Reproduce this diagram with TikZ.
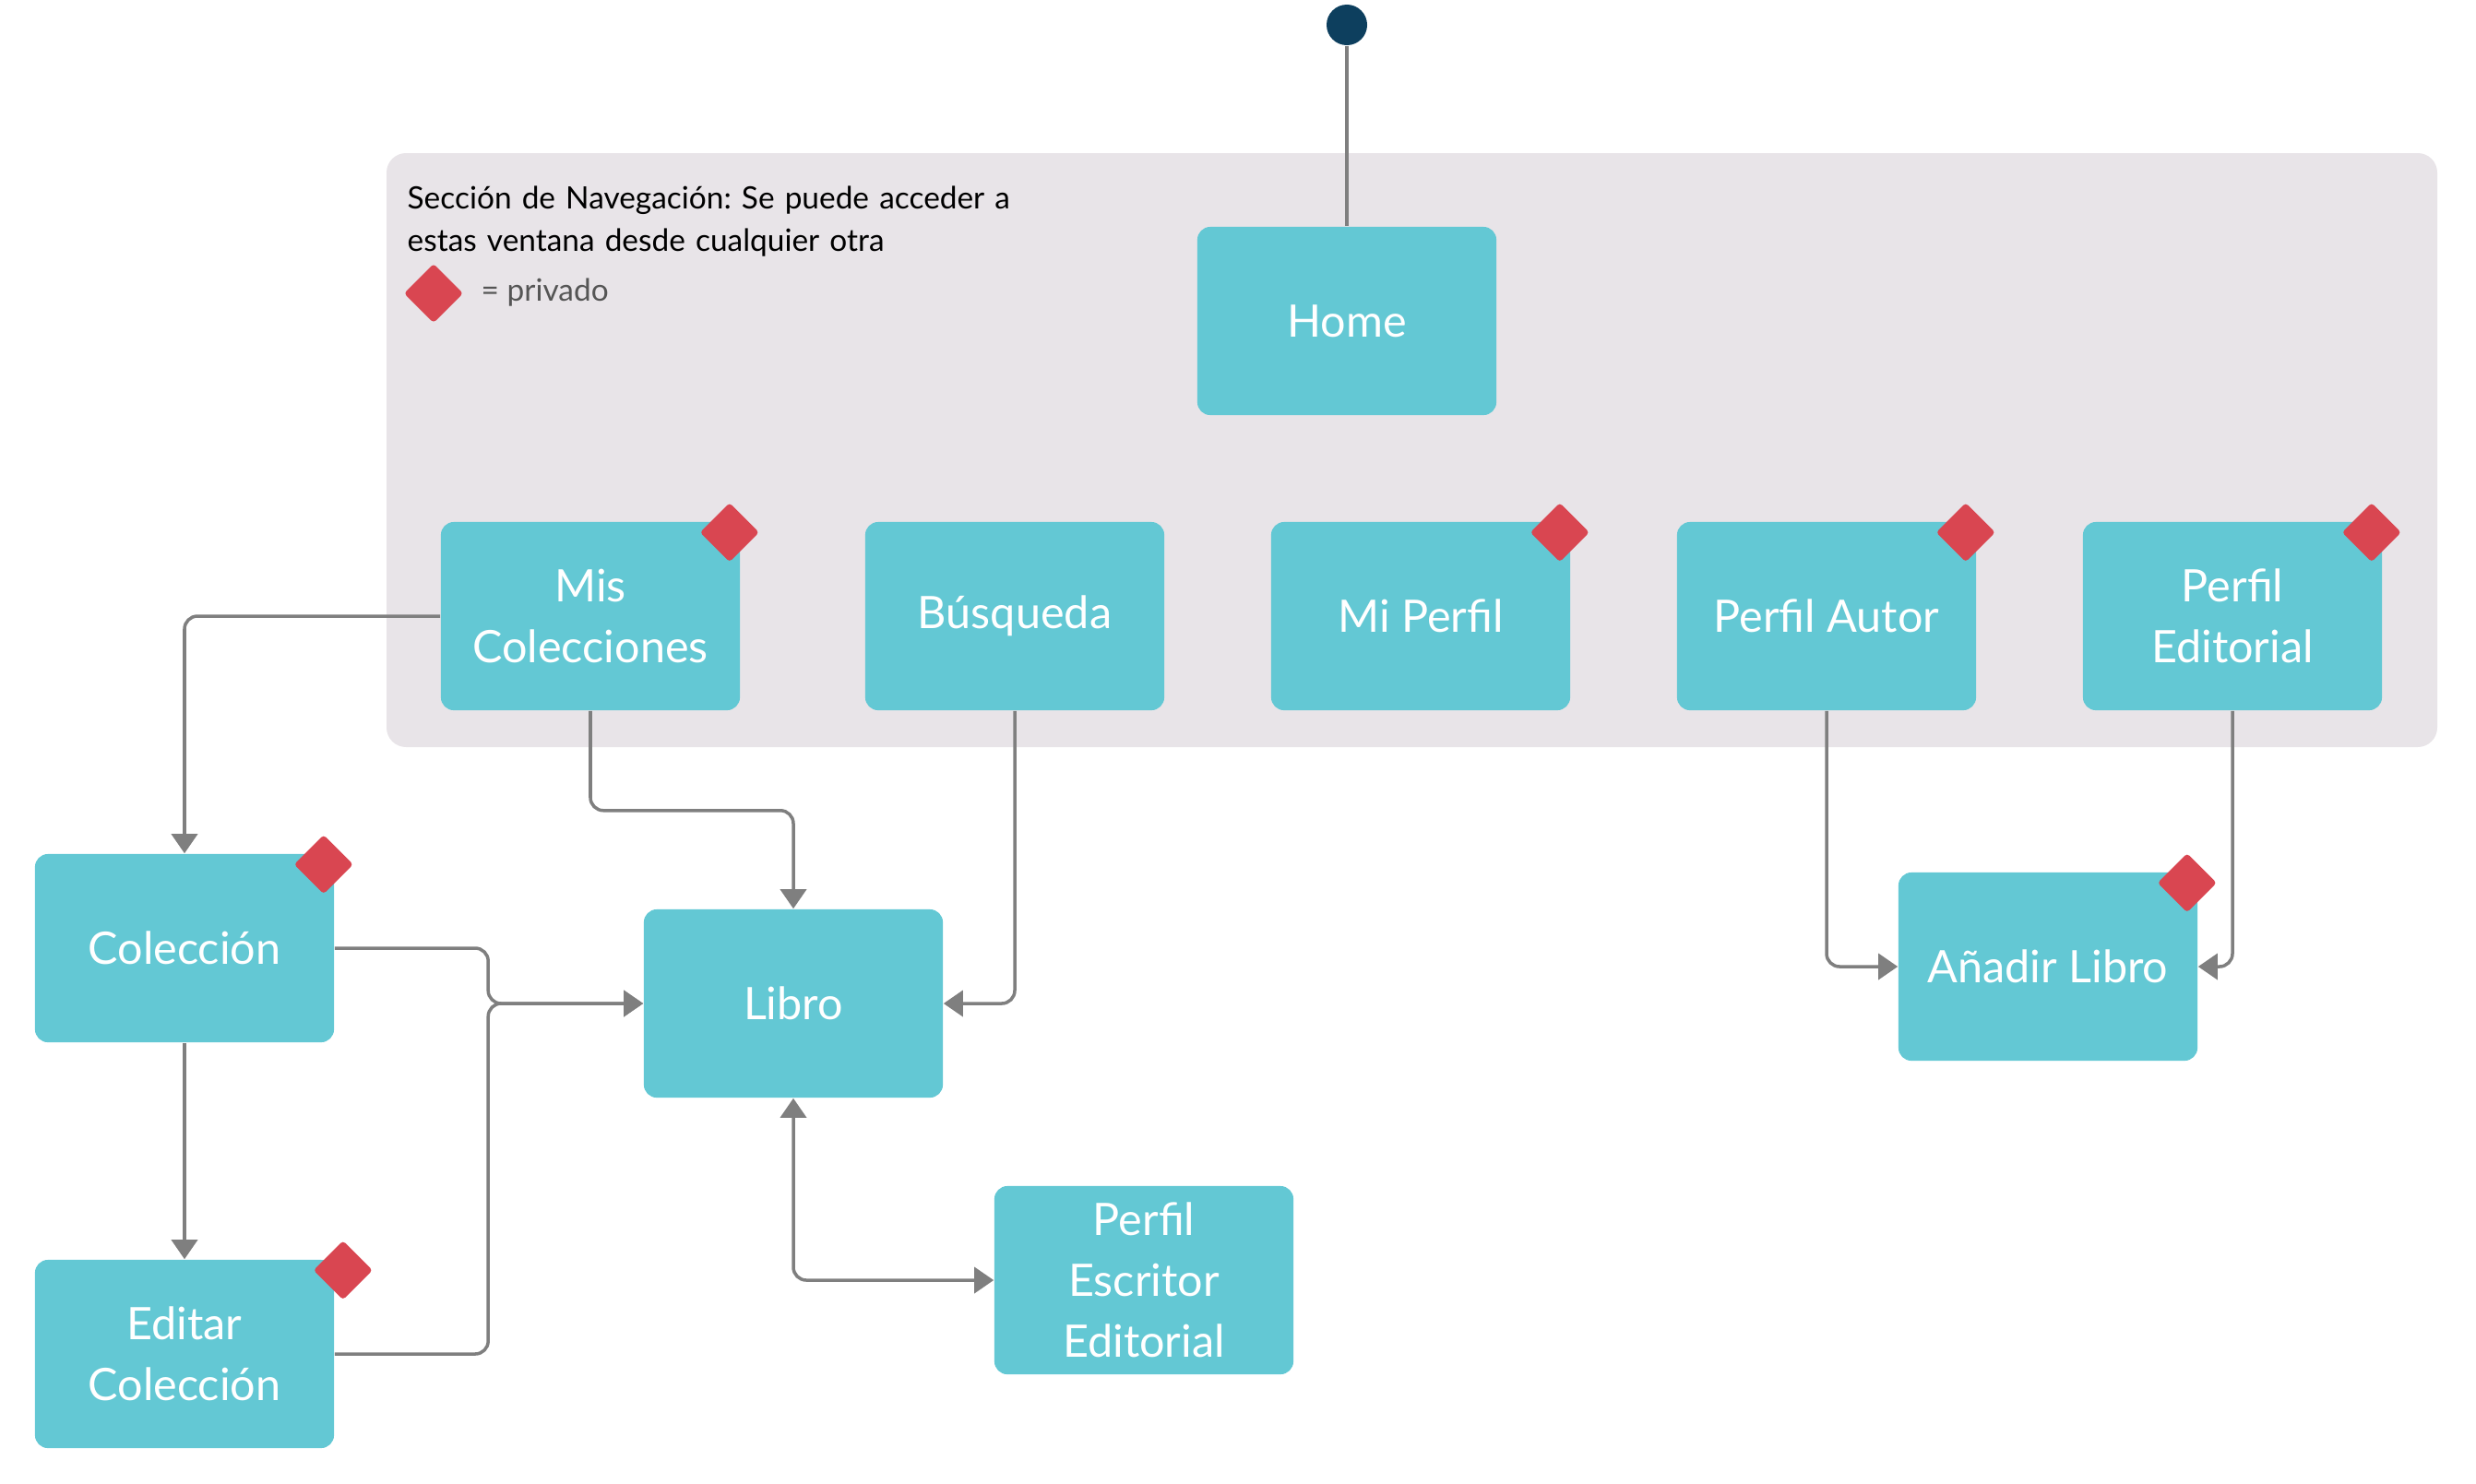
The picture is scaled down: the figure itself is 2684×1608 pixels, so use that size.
\documentclass[tikz,border=0pt]{standalone}
\usepackage{fontspec}
\setmainfont{Lato}
\frenchspacing
\usepackage{tikz}
\usetikzlibrary{arrows.meta}
\usetikzlibrary{calc}
\definecolor{screencyan}{HTML}{63C8D4}
\definecolor{privred}{HTML}{D94651}
\definecolor{panelgray}{HTML}{E8E4E8}
\definecolor{linegray}{HTML}{7F7F7F}
\definecolor{startnavy}{HTML}{0D3F5E}
\definecolor{notegray}{HTML}{555555}
\tikzstyle{screen}=[fill=screencyan, rounded corners=4pt, minimum width=3.24cm, minimum height=2.04cm, inner sep=0pt, align=center, text=white, font=\fontsize{13.8}{18.8}\selectfont]
\tikzstyle{navpanel}=[fill=panelgray, rounded corners=6pt]
\tikzstyle{privfill}=[fill=privred, rounded corners=1pt]
\tikzstyle{flow}=[draw=linegray, line width=1pt, rounded corners=4pt, -{Triangle[length=6pt,width=8pt]}]
\tikzstyle{startdot}=[circle, fill=startnavy, minimum size=0.44cm, inner sep=0pt]
\newcommand{\privDiamond}[1]{
	\fill[privfill] #1 +(0,-32) -- +(32,0) -- +(0,32) -- +(-32,0) -- cycle;
}

\begin{document}
\begin{tikzpicture}[x=0.01cm,y=-0.01cm]
	\useasboundingbox (0,0) rectangle (2684,1608);
	\fill[navpanel] (419,166) rectangle (2642,810);
	\node[anchor=base west, inner sep=0pt, text width=9cm, align=left, font=\fontsize{9.5}{13.3}\selectfont] (navnote) at (441,226) {Sección de Navegación: Se puede acceder a\\estas ventana desde cualquier otra};
	\node[anchor=base west, inner sep=0pt, text=notegray, font=\fontsize{9.5}{13.3}\selectfont] (privnote) at (521,326) {= privado};
	\privDiamond{(470,318)}
	\node[startdot] (start) at (1460,27) {};
	\node[screen] (home) at (1460,348) {Home};
	\node[screen] (miscol) at (640,668) {Mis\\Colecciones};
	\node[screen] (busqueda) at (1100,668) {Búsqueda};
	\node[screen] (miperfil) at (1540,668) {Mi Perfil};
	\node[screen] (perfilautor) at (1980,668) {Perfil Autor};
	\node[screen] (perfileditorial) at (2420,668) {Perfil\\Editorial};
	\node[screen] (coleccion) at (200,1028) {Colección};
	\node[screen] (editarcol) at (200,1468) {Editar\\Colección};
	\node[screen] (libro) at (860,1088) {Libro};
	\node[screen] (perfilesc) at (1240,1388) {Perfil\\Escritor\\Editorial};
	\node[screen] (anadir) at (2220,1048) {Añadir Libro};
	\coordinate (junta) at ($(libro.west)+(-168,0)$);
	\draw[flow,-] (start) -- (home);
	\draw[flow] (miscol.west) -| (coleccion.north);
	\draw[flow] (miscol.south) -- ++(0,108) -| (libro.north);
	\draw[flow] (busqueda.south) |- (libro.east);
	\draw[flow] (coleccion.east) -| (junta) -- (libro.west);
	\draw[flow] (editarcol.east) -| (junta) -- (libro.west);
	\draw[flow] (coleccion) -- (editarcol);
	\draw[flow,{Triangle[length=6pt,width=8pt]}-{Triangle[length=6pt,width=8pt]}] (libro.south) |- (perfilesc.west);
	\draw[flow] (perfilautor.south) |- (anadir.west);
	\draw[flow] (perfileditorial.south) |- (anadir.east);
	\privDiamond{($(miscol.north east)+(-12,12)$)}
	\privDiamond{($(miperfil.north east)+(-12,12)$)}
	\privDiamond{($(perfilautor.north east)+(-12,12)$)}
	\privDiamond{($(perfileditorial.north east)+(-12,12)$)}
	\privDiamond{($(coleccion.north east)+(-12,12)$)}
	\privDiamond{($(editarcol.north east)+(9,12)$)}
	\privDiamond{($(anadir.north east)+(-12,12)$)}
\end{tikzpicture}
\end{document}
